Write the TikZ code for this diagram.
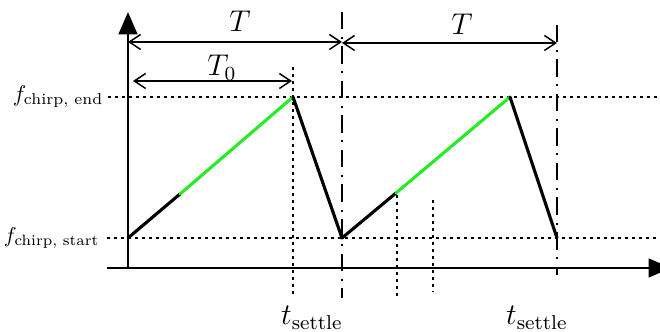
\documentclass[tikz,border=0pt]{standalone}
\usepackage{amsmath}
\usetikzlibrary{arrows.meta}
\definecolor{ramp}{RGB}{40,235,40}
\begin{document}
\begin{tikzpicture}[x=0.4pt,y=-0.4pt,
  axis/.style={line width=1.05pt,-{Triangle[length=9pt,width=7.5pt]}},
  seg/.style={line width=1.25pt,line cap=round,line join=round},
  guide/.style={line width=0.45pt,dash pattern=on 1.2pt off 1.6pt},
  period/.style={line width=0.6pt,dash pattern=on 7pt off 3pt on 0.8pt off 3pt},
  span/.style={line width=0.6pt,{Straight Barb[length=4.5pt,width=6pt]}-{Straight Barb[length=4.5pt,width=6pt]}},
  lab/.style={inner sep=0pt}]
\useasboundingbox (0,0) rectangle (660,332);
% key points
\coordinate (O) at (128,268);
\coordinate (ytip) at (128,12);
\coordinate (xs) at (107,268);
\coordinate (xtip) at (671,268);
\coordinate (A) at (128,238);
\coordinate (G1) at (180,194);
\coordinate (P1) at (293,97);
\coordinate (B) at (342,238);
\coordinate (G2) at (396,193);
\coordinate (P2) at (510,97);
\coordinate (C) at (557,238);
% guide line ends
\coordinate (fe0) at (108,97);
\coordinate (fe1) at (660,97);
\coordinate (fs0) at (107,238);
\coordinate (fs1) at (660,238);
\coordinate (v1a) at (293,67);
\coordinate (v1b) at (293,298);
\coordinate (v2a) at (342,12);
\coordinate (v2b) at (342,298);
\coordinate (v3a) at (557,25);
\coordinate (v3b) at (557,275);
\coordinate (v4a) at (397,195);
\coordinate (v4b) at (397,297);
\coordinate (v5a) at (433,200);
\coordinate (v5b) at (433,292);
\coordinate (Ta) at (128,42);
\coordinate (Tb) at (342,42);
\coordinate (Tc) at (342,43);
\coordinate (Td) at (557,43);
\coordinate (T0a) at (133,81);
\coordinate (T0b) at (292,81);
% guides
\draw[guide] (fe0) -- (fe1);
\draw[guide] (fs0) -- (fs1);
\draw[guide] (v1a) -- (v1b);
\draw[guide] (v4a) -- (v4b);
\draw[guide] (v5a) -- (v5b);
\draw[period] (v2a) -- (v2b);
\draw[period] (v3a) -- (v3b);
% axes
\draw[axis] (O) -- (ytip);
\draw[axis] (xs) -- (xtip);
% signal
\draw[seg] (A) -- (G1);
\draw[seg,ramp] (G1) -- (P1);
\draw[seg] (P1) -- (B) -- (G2);
\draw[seg,ramp] (G2) -- (P2);
\draw[seg] (P2) -- (C);
% spans
\draw[span] (Ta) -- (Tb);
\draw[span] (Tc) -- (Td);
\draw[span] (T0a) -- (T0b);
% labels
\node[lab] (lT1) at (240,21) {\large $T$};
\node[lab] (lT2) at (462,24) {\large $T$};
\node[lab] (lT0) at (222,68) {\large $T_0$};
\node[lab,anchor=east] (lfe) at (104,97) {\scalebox{0.9}{$f_{\text{chirp, end}}$}};
\node[lab,anchor=east] (lfs) at (100,238) {\scalebox{0.86}{$f_{\text{chirp, start}}$}};
\node[lab] (ls1) at (312,318) {\large $t_{\text{settle}}$};
\node[lab] (ls2) at (537,318) {\large $t_{\text{settle}}$};
\end{tikzpicture}
\end{document}
